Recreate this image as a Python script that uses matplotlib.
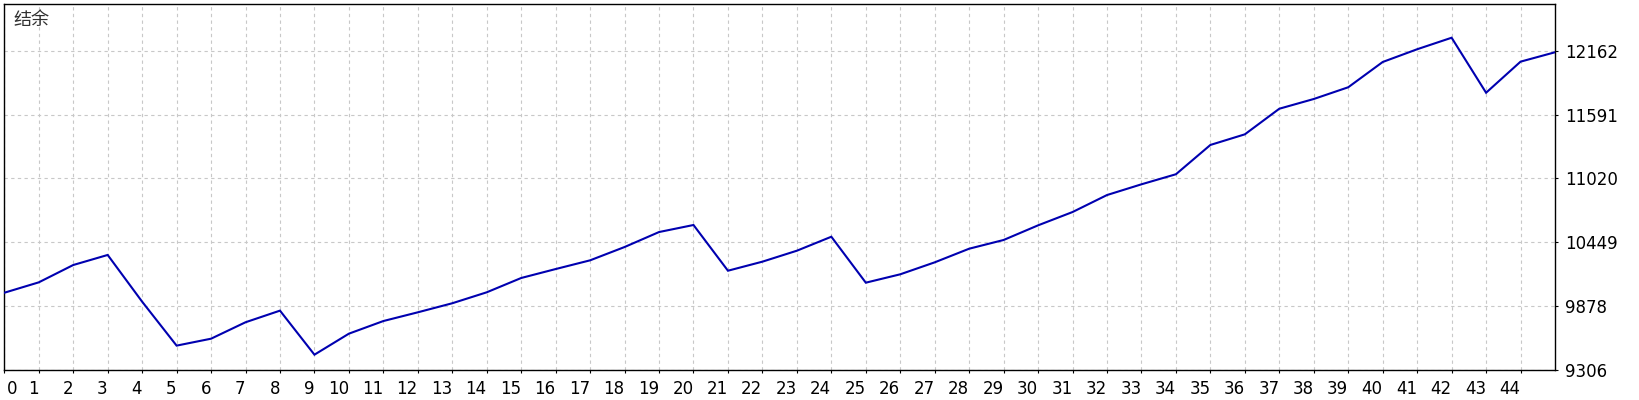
import matplotlib
matplotlib.use("Agg")
import matplotlib.pyplot as plt

# data
trades = list(range(46))
balance = [9997, 10090, 10245, 10335, 9917, 9524, 9586, 9733, 9837, 9443,
           9631, 9744, 9822, 9903, 10001, 10129, 10209, 10287, 10406, 10540,
           10603, 10194, 10275, 10373, 10498, 10087, 10162, 10269, 10391, 10469,
           10600, 10719, 10871, 10967, 11057, 11319, 11414, 11643, 11730, 11835,
           12061, 12175, 12278, 11786, 12064, 12148]
y_ticks = [9306, 9878, 10449, 11020, 11591, 12162]
x_tick_labels = [str(i) for i in range(45)]
title = "结余"

plt.rcParams['font.family'] = ['DejaVu Sans', 'Noto Sans CJK SC']

W, H = 1640, 400
fig = plt.figure(figsize=(W / 100, H / 100), dpi=100)
fig.patch.set_facecolor("white")
ax = fig.add_axes([4.3 / W, 1 - 370 / H, (1555 - 4.3) / W, (370 - 4.3) / H])

ax.plot(trades, balance, color="#0000B0", lw=1.5, solid_joinstyle="miter", zorder=3)

ax.set_xlim(0, 45)
ax.set_ylim(9306, 12577)

ax.set_xticks(range(45))
ax.set_xticklabels(x_tick_labels)
ax.set_yticks(y_ticks)
ax.set_yticklabels([str(v) for v in y_ticks])

ax.yaxis.tick_right()
ax.tick_params(axis="x", direction="out", length=2.5, width=0.8, pad=4.5,
               labelsize=12, colors="black")
ax.tick_params(axis="y", direction="out", length=2.5, width=0.8, pad=5,
               labelsize=12, colors="black")
for i, lbl in enumerate(ax.get_xticklabels()):
    lbl.set_ha("left" if i == 0 else "right")
    if i == 0:
        lbl.set_x(0)
for lbl in ax.get_xticklabels()[:1]:
    import matplotlib.transforms as mt
    lbl.set_transform(lbl.get_transform() + mt.ScaledTranslation(3 / 100, 0, fig.dpi_scale_trans))

ax.grid(True, color="#c8c8c8", linestyle=(0, (3, 3)), linewidth=0.8, zorder=0)
for s in ax.spines.values():
    s.set_color("black")
    s.set_linewidth(1.0)

fig.text(13 / W, 1 - 11 / H, title, ha="left", va="top", fontsize=13,
         color="#303030", family=["Noto Sans CJK SC", "DejaVu Sans"])

fig.savefig("out.png", dpi=100, facecolor="white")
